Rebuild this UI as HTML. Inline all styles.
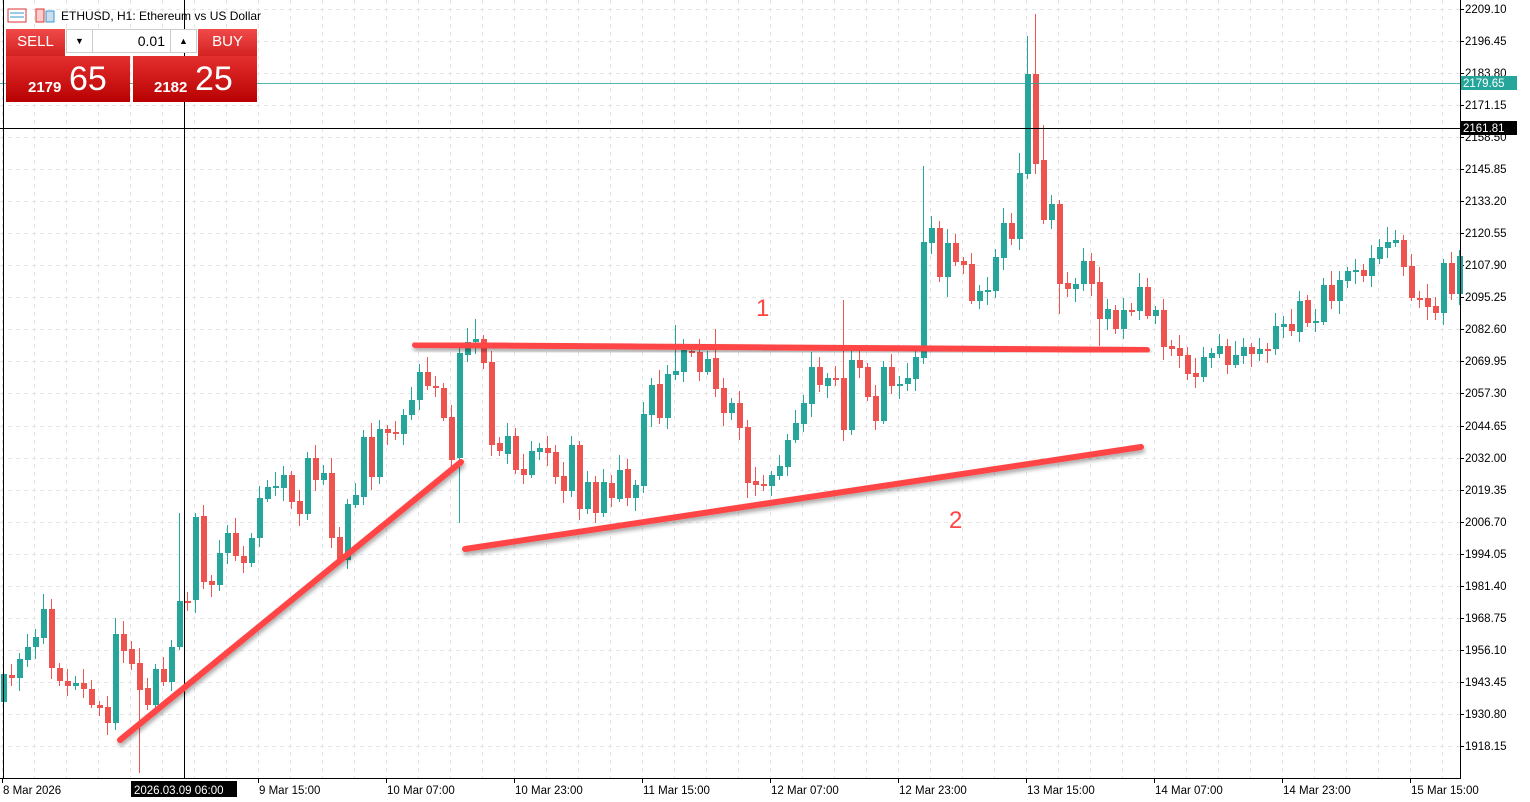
<!DOCTYPE html>
<html><head><meta charset="utf-8"><style>
html,body{margin:0;padding:0;background:#fff;}
body{width:1530px;height:802px;overflow:hidden;position:relative;font-family:"Liberation Sans",sans-serif;}
svg{position:absolute;left:0;top:0;}
.panel{position:absolute;}
</style></head><body>
<svg id="c" width="1530" height="802" xmlns="http://www.w3.org/2000/svg" font-family="Liberation Sans, sans-serif"></svg>
<div class="panel" style="left:6px;top:29px;width:59px;height:27px;background:linear-gradient(#f04a4a,#d42222);color:#fff;font-size:15px;text-align:center;line-height:26px;">SELL</div>
<div class="panel" style="left:198px;top:29px;width:59px;height:27px;background:linear-gradient(#f04a4a,#d42222);color:#fff;font-size:15px;text-align:center;line-height:26px;">BUY</div>
<div class="panel" style="left:66px;top:29px;width:131px;height:24px;background:#fff;border:1px solid #ccc;box-sizing:border-box;font-size:14px;">
 <div style="position:absolute;left:0;top:0;width:25px;height:22px;border-right:1px solid #ccc;text-align:center;font-size:9px;line-height:22px;">▼</div>
 <div style="position:absolute;left:26px;top:0;width:72px;height:22px;text-align:right;line-height:22px;">0.01</div>
 <div style="position:absolute;right:0;top:0;width:25px;height:22px;border-left:1px solid #ccc;text-align:center;font-size:9px;line-height:22px;">▲</div>
</div>
<div class="panel" style="left:6px;top:56px;width:124px;height:46px;background:linear-gradient(#e53030,#b80000);color:#fff;">
 <span style="position:absolute;left:22px;top:23px;font-size:15px;font-weight:bold;">2179</span>
 <span style="position:absolute;left:63px;top:4px;font-size:34px;">65</span></div>
<div class="panel" style="left:133px;top:56px;width:124px;height:46px;background:linear-gradient(#e53030,#b80000);color:#fff;">
 <span style="position:absolute;left:21px;top:23px;font-size:15px;font-weight:bold;">2182</span>
 <span style="position:absolute;left:62px;top:4px;font-size:34px;">25</span></div>
<script>
const s=document.getElementById('c');let h='';
const GX0=3,R=1460,B=778;
// grid
for(let x=2;x<R;x+=32)h+=`<line x1="${x+.5}" y1="0" x2="${x+.5}" y2="${B}" stroke="#e6e6e6" stroke-dasharray="4,4"/>`;
const labels=["2209.10","2196.45","2183.80","2171.15","2158.50","2145.85","2133.20","2120.55","2107.90","2095.25","2082.60","2069.95","2057.30","2044.65","2032.00","2019.35","2006.70","1994.05","1981.40","1968.75","1956.10","1943.45","1930.80","1918.15"];
labels.forEach((l,i)=>{const y=Math.round(9+i*32.04);
h+=`<line x1="0" y1="${y+.5}" x2="${R}" y2="${y+.5}" stroke="#e6e6e6" stroke-dasharray="4,4"/>`;
h+=`<line x1="${R}" y1="${y+.5}" x2="${R+4}" y2="${y+.5}" stroke="#000"/>`;
h+=`<text x="${R+5}" y="${y+4}" font-size="11.5" fill="#000">${l}</text>`;});
const bd=[[702,674],[675,678],[678,659],[660,647],[647,637],[638,609],[609,668],[668,681],[681,686],[686,683],[683,689],[689,705],[705,708],[707,723],[723,634],[634,651],[649,664],[663,690],[688,705],[705,669],[669,682],[682,647],[647,601],[601,603],[600,517],[516,582],[581,585],[585,553],[553,533],[533,556],[556,563],[563,538],[538,498],[499,487],[487,486],[488,475],[475,502],[501,514],[514,458],[458,480],[480,473],[473,538],[537,560],[560,504],[505,495],[497,437],[437,477],[477,429],[429,433],[432,434],[434,415],[415,400],[400,372],[372,386],[386,388],[388,418],[417,460],[458,353],[355,342],[342,339],[339,363],[362,445],[443,451],
[454,436],[436,470],[469,475],[475,451],[452,448],[448,453],[452,477],[476,491],[491,445],[445,509],[509,482],[482,513],[513,482],[483,498],[499,470],[469,498],[498,485],[486,414],[415,385],[384,418],[418,374],[375,371],[372,350],[351,352],[352,372],[372,359],[358,389],[388,413],[413,403],[403,428],[427,483],[481,485],[484,485],[486,475],[476,466],[467,440],[440,423],[424,403],[404,367],[367,385],[386,378],[378,378],[378,430],[430,360],[360,368],[367,397],[396,421],[421,367],[367,386],[386,384],[384,378],[379,357],[358,242],[243,228],[228,277],[277,243],[243,262],[261,265],[264,301],[301,291],[292,290],[291,257],[258,223],[223,239],[239,173],[174,74],[74,164],[160,220],[220,204],[204,284],[283,289],[289,284],[284,261],[261,284],[282,319],[319,309],[310,329],[329,310],[310,311],[311,287],[287,316],[316,310],[310,347],[346,349],[348,356],[355,374],[373,377],[377,357],[358,353],[354,346],[346,365],[365,355],[356,347],[347,354],[354,349],[349,349],[349,326],[327,324],[324,331],[332,301],[300,323],[323,321],[322,285],[285,301],[301,280],[281,271],[271,270],[270,276],[276,258],[259,247],[248,242],[243,240],[240,267],[266,298],[298,298],[298,307],[306,313],[313,263],[263,294],[294,256]];
const hiO={128:36,129:14,115:166,59:319,105:300,89:329,84:325,127:153,130:125,22:513,14:618};
const loO={57:523,17:773,137:346,93:498,13:735,118:297,132:314};
bd.forEach((b,i)=>{const x=3+8*i;const up=b[1]<b[0];const col=up?'#26a69a':'#ef5350';
let t=Math.min(b[0],b[1]),bt=Math.max(b[0],b[1]);if(bt-t<2)bt=t+2;
let hi=hiO[i]!==undefined?hiO[i]:t-(4+(i*7)%12);let lo=loO[i]!==undefined?loO[i]:bt+(3+(i*5)%11);
h+=`<line x1="${x+.5}" y1="${hi}" x2="${x+.5}" y2="${lo}" stroke="${col}" stroke-width="1"/>`;
h+=`<rect x="${x-2}" y="${t}" width="6" height="${bt-t}" fill="${col}"/>`;});
// current price lines
h+=`<line x1="0" y1="83.5" x2="${R}" y2="83.5" stroke="#26a69a" stroke-width="1" opacity=".8"/>`;
h+=`<line x1="0" y1="128.5" x2="${R}" y2="128.5" stroke="#000"/>`;
h+=`<line x1="184.5" y1="0" x2="184.5" y2="${B}" stroke="#000"/>`;
// trend lines
h+=`<defs><filter id="sh" x="-5%" y="-50%" width="110%" height="200%"><feDropShadow dx="1" dy="3" stdDeviation="2" flood-color="#000" flood-opacity=".35"/></filter></defs>`;
[[415,345,1147,350],[465,549,1141,447],[120,740,461,462]].forEach(l=>{
h+=`<line x1="${l[0]}" y1="${l[1]}" x2="${l[2]}" y2="${l[3]}" stroke="#ff4444" stroke-width="6" stroke-linecap="round" filter="url(#sh)"/>`;});
h+=`<text x="756" y="316" font-size="24" fill="#ff4444">1</text><text x="949" y="528" font-size="24" fill="#ff4444">2</text>`;
// borders
h+=`<line x1="3.5" y1="0" x2="3.5" y2="${B}" stroke="#000"/>`;
h+=`<line x1="0" y1="2.5" x2="${R}" y2="2.5" stroke="#000" opacity=".0"/>`;
h+=`<line x1="${R+.5}" y1="0" x2="${R+.5}" y2="${B+1}" stroke="#000"/>`;
h+=`<line x1="0" y1="${B+.5}" x2="${R+1}" y2="${B+.5}" stroke="#000"/>`;
// price tags
h+=`<rect x="${R+1}" y="76" width="56" height="14" fill="#26a69a"/><text x="${R+3}" y="87" font-size="11.5" fill="#fff">2179.65</text>`;
h+=`<rect x="${R+1}" y="121" width="56" height="14" fill="#000"/><text x="${R+3}" y="132" font-size="11.5" fill="#fff">2161.81</text>`;
// time axis
const tl=[[2,"8 Mar 2026"],[258,"9 Mar 15:00"],[386,"10 Mar 07:00"],[514,"10 Mar 23:00"],[642,"11 Mar 15:00"],[770,"12 Mar 07:00"],[898,"12 Mar 23:00"],[1026,"13 Mar 15:00"],[1154,"14 Mar 07:00"],[1282,"14 Mar 23:00"],[1410,"15 Mar 15:00"]];
tl.forEach(t=>{h+=`<line x1="${t[0]+.5}" y1="${B}" x2="${t[0]+.5}" y2="${B+5}" stroke="#000"/><text x="${t[0]+1}" y="794" font-size="11.5" fill="#000">${t[1]}</text>`;});
h+=`<rect x="131" y="781" width="106" height="16" fill="#000"/><text x="134" y="794" font-size="11.5" fill="#fff">2026.03.09 06:00</text>`;
// title
h+=`<rect x="8" y="9" width="18" height="13" fill="#fff" stroke="#d33" /><line x1="10" y1="13" x2="24" y2="13" stroke="#39c"/><line x1="10" y1="17" x2="24" y2="17" stroke="#39c"/>`;
h+=`<rect x="36" y="9" width="8" height="13" fill="#fcc" stroke="#d33"/><rect x="46" y="11" width="8" height="11" fill="#cde" stroke="#39c"/>`;
h+=`<text x="61" y="20" font-size="12" fill="#000">ETHUSD, H1:  Ethereum vs US Dollar</text>`;
s.innerHTML=h;
</script>
</body></html>
